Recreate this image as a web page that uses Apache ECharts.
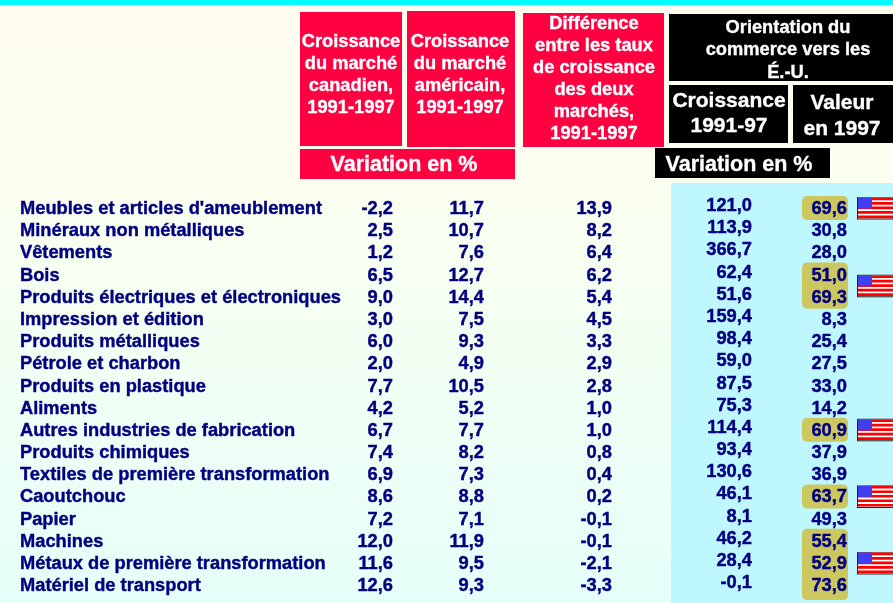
<!DOCTYPE html>
<html><head><meta charset="utf-8">
<style>html,body{margin:0;padding:0;background:#fff}#c{width:893px;height:603px}</style>
<script src="https://cdn.jsdelivr.net/npm/echarts@6/dist/echarts.min.js"></script>
</head><body><div id="c"></div>
<script>
const categories = ["Meubles et articles d'ameublement","Minéraux non métalliques","Vêtements","Bois","Produits électriques et électroniques","Impression et édition","Produits métalliques","Pétrole et charbon","Produits en plastique","Aliments","Autres industries de fabrication","Produits chimiques","Textiles de première transformation","Caoutchouc","Papier","Machines","Métaux de première transformation","Matériel de transport"];
const marcheCanadien = [-2.2,2.5,1.2,6.5,9.0,3.0,6.0,2.0,7.7,4.2,6.7,7.4,6.9,8.6,7.2,12.0,11.6,12.6];
const marcheAmericain = [11.7,10.7,7.6,12.7,14.4,7.5,9.3,4.9,10.5,5.2,7.7,8.2,7.3,8.8,7.1,11.9,9.5,9.3];
const difference = [13.9,8.2,6.4,6.2,5.4,4.5,3.3,2.9,2.8,1.0,1.0,0.8,0.4,0.2,-0.1,-0.1,-2.1,-3.3];
const croissanceEU = [121.0,113.9,366.7,62.4,51.6,159.4,98.4,59.0,87.5,75.3,114.4,93.4,130.6,46.1,8.1,46.2,28.4,-0.1];
const valeurEU = [69.6,30.8,28.0,51.0,69.3,8.3,25.4,27.5,33.0,14.2,60.9,37.9,36.9,63.7,49.3,55.4,52.9,73.6];
const surligne = [[0,0],[3,4],[10,10],[13,13],[15,17]];
const drapeaux = [0,3.5,10,13,16];

const navy='#000080', red='#FF0040', gold='#CCC75E';
const fontFamily='"Liberation Sans",Arial,sans-serif';
const fmt=v=>v.toFixed(1).replace('.',',');
const rowFont={color:navy,fontFamily,fontWeight:'bold',fontSize:18.3,opacity:1,textBorderColor:navy,textBorderWidth:0.4};

function col(name,values,xRight,dy){
  return {type:'scatter',name,symbolSize:0,silent:true,z:5,itemStyle:{opacity:1},
    data:values.map((v,i)=>({value:[xRight,categories[i]],txt:fmt(v)})),
    label:Object.assign({show:true,position:'inside',align:'right',verticalAlign:'middle',offset:[0,dy],
      formatter:p=>p.data.txt},rowFont)};
}
function hdr(x,y,w,h,fill,lines,size,lh,cx,cy){
  return {type:'group',children:[
    {type:'rect',shape:{x,y,width:w,height:h},style:{fill},z:1},
    {type:'text',z:2,style:{x:cx,y:cy,text:lines,align:'center',verticalAlign:'middle',
      fill:'#fff',stroke:'#fff',lineWidth:0.35,font:'bold '+size+'px '+fontFamily,lineHeight:lh}}
  ]};
}
const chart=echarts.init(document.getElementById('c'),null,{renderer:'canvas'});
chart.setOption({
  animation:false,
  backgroundColor:{type:'linear',x:0,y:0,x2:0,y2:1,colorStops:[{offset:0,color:'#FFFDF0'},{offset:0.3,color:'#FBFFEF'},{offset:1,color:'#E6FFFA'}]},
  grid:{left:0,right:0,top:198,height:399.2},
  xAxis:{type:'value',min:0,max:893,show:false},
  yAxis:{type:'category',data:categories,inverse:true,show:false},
  graphic:{elements:[
    {type:'rect',shape:{x:0,y:0,width:893,height:5},style:{fill:'#00FFFF'},z:1},
    {type:'rect',shape:{x:671,y:183,width:222,height:420},style:{fill:'#BFF7FF'},z:0},
    hdr(300,12,102,134,red,'Croissance\ndu marché\ncanadien,\n1991-1997',18.3,22,351,75),
    hdr(407,11,108,136,red,'Croissance\ndu marché\naméricain,\n1991-1997',18.3,22,460,75),
    hdr(523,13,141,134,red,'Différence\nentre les taux\nde croissance\ndes deux\nmarchés,\n1991-1997',18.3,22,594,79),
    hdr(300,149,215,30,red,'Variation en %',21.5,22,404,165),
    hdr(669,14,224,67,'#000','Orientation du\ncommerce vers les\nÉ.-U.',18.3,22.5,788,50),
    hdr(669,85,119,58,'#000','Croissance\n1991-97',21,25,729,114),
    hdr(793,85,100,58,'#000','Valeur\nen 1997',21,26,842,116),
    hdr(655,148,175,30,'#000','Variation en %',21.5,22,739,165)
  ]},
  series:[
    {type:'custom',silent:true,z:2,data:surligne,encode:{x:-1,y:-1},
      renderItem(p,api){
        const a=api.coord([802,categories[api.value(0)]]), b=api.coord([848,categories[api.value(1)]]);
        const s=surligne[p.dataIndex];
        const top=a[1]-13, bottom=b[1]+11+(s[1]-s[0]>1?3:0);
        return {type:'rect',shape:{x:a[0],y:top,width:b[0]-a[0],height:bottom-top,r:5},style:{fill:gold}};
      }},
    {type:'custom',silent:true,z:3,data:drapeaux.map(v=>[v]),encode:{x:-1,y:-1},
      renderItem(p,api){
        const r=api.value(0),lo=Math.floor(r),hi=Math.ceil(r);
        const ya=api.coord([0,categories[lo]])[1],yb=api.coord([0,categories[hi]])[1];
        const cy=(ya+yb)/2, x=858,w=36,h=21,t=cy-h/2-1;
        const ch=[{type:'rect',shape:{x:x-1,y:t-0.5,width:w+1,height:h+1.5},style:{fill:'#222'}},
                  {type:'rect',shape:{x,y:t,width:w,height:h},style:{fill:'#fff'}}];
        for(let i=0;i<5;i++) ch.push({type:'rect',shape:{x,y:t+i*4.5,width:w,height:2.7},style:{fill:'#F00'}});
        ch.push({type:'rect',shape:{x,y:t,width:14,height:11},style:{fill:'#3F3FF0'}});
        return {type:'group',children:ch};
      }},
    {type:'scatter',symbolSize:0,silent:true,z:5,itemStyle:{opacity:1},
      data:categories.map(c=>[20,c]),
      label:Object.assign({show:true,position:'inside',align:'left',verticalAlign:'middle',
        formatter:p=>p.data[1]},rowFont)},
    col('canadien',marcheCanadien,393,0),
    col('americain',marcheAmericain,484,0),
    col('difference',difference,612,0),
    col('croissance',croissanceEU,752,-3),
    col('valeur',valeurEU,847,0)
  ]
});
</script></body></html>
